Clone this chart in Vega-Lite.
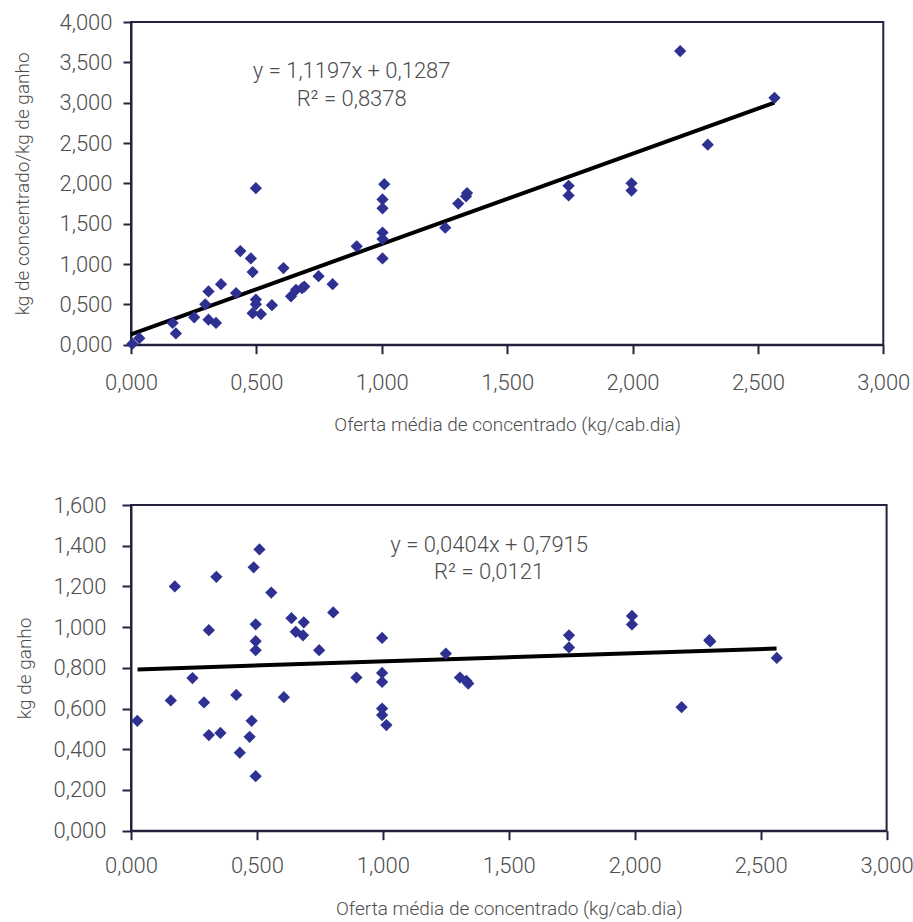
{
  "$schema": "https://vega.github.io/schema/vega-lite/v6.json",
  "background": "white",
  "padding": {"left": 12, "top": 10, "right": 0, "bottom": 0},
  "columns": 1,
  "align": "none",
  "spacing": 57,
  "config": {
    "font": "Roboto",
    "view": {"stroke": "#23233f", "strokeWidth": 2},
    "axis": {
      "grid": false,
      "domainColor": "#23233f",
      "domainWidth": 2,
      "tickColor": "#23233f",
      "tickWidth": 2,
      "labelFont": "Roboto",
      "labelFontWeight": 300,
      "labelFontSize": 22,
      "labelColor": "#4d4d4d",
      "labelOverlap": false,
      "labelFlush": false,
      "titleFont": "Roboto",
      "titleFontWeight": 300,
      "titleFontSize": 19,
      "titleColor": "#4d4d4d"
    }
  },
  "datasets": {
    "top": [
      {"x": 0.005, "y": 0.01}, {"x": 0.033, "y": 0.08}, {"x": 0.166, "y": 0.27}, {"x": 0.179, "y": 0.14},
      {"x": 0.252, "y": 0.34}, {"x": 0.296, "y": 0.50}, {"x": 0.309, "y": 0.66}, {"x": 0.309, "y": 0.31},
      {"x": 0.339, "y": 0.27}, {"x": 0.359, "y": 0.75}, {"x": 0.419, "y": 0.64}, {"x": 0.436, "y": 1.16},
      {"x": 0.478, "y": 1.07}, {"x": 0.485, "y": 0.90}, {"x": 0.498, "y": 1.94}, {"x": 0.498, "y": 0.56},
      {"x": 0.498, "y": 0.50}, {"x": 0.485, "y": 0.39}, {"x": 0.518, "y": 0.38}, {"x": 0.562, "y": 0.49},
      {"x": 0.608, "y": 0.95}, {"x": 0.638, "y": 0.60}, {"x": 0.658, "y": 0.68}, {"x": 0.682, "y": 0.70},
      {"x": 0.691, "y": 0.72}, {"x": 0.748, "y": 0.85}, {"x": 0.804, "y": 0.75}, {"x": 0.900, "y": 1.22},
      {"x": 1.010, "y": 1.99}, {"x": 1.003, "y": 1.80}, {"x": 1.003, "y": 1.69}, {"x": 1.003, "y": 1.39},
      {"x": 1.003, "y": 1.31}, {"x": 1.003, "y": 1.07}, {"x": 1.253, "y": 1.45}, {"x": 1.305, "y": 1.75},
      {"x": 1.336, "y": 1.84}, {"x": 1.340, "y": 1.88}, {"x": 1.745, "y": 1.97}, {"x": 1.745, "y": 1.85},
      {"x": 1.996, "y": 2.00}, {"x": 1.996, "y": 1.91}, {"x": 2.190, "y": 3.64}, {"x": 2.300, "y": 2.48},
      {"x": 2.566, "y": 3.06}
    ],
    "topfit": [{"x": 0.0, "y": 0.1287}, {"x": 2.566, "y": 3.002}],
    "toptext": [
      {"x": 0.88, "y": 3.387, "label": "y = 1,1197x + 0,1287"},
      {"x": 0.88, "y": 3.04, "label": "R² = 0,8378"}
    ],
    "bottom": [
      {"x": 0.025, "y": 0.54}, {"x": 0.158, "y": 0.64}, {"x": 0.174, "y": 1.20}, {"x": 0.244, "y": 0.75},
      {"x": 0.290, "y": 0.63}, {"x": 0.309, "y": 0.985}, {"x": 0.309, "y": 0.47}, {"x": 0.339, "y": 1.247},
      {"x": 0.355, "y": 0.48}, {"x": 0.418, "y": 0.667}, {"x": 0.432, "y": 0.383}, {"x": 0.471, "y": 0.461},
      {"x": 0.479, "y": 0.54}, {"x": 0.487, "y": 1.294}, {"x": 0.495, "y": 0.268}, {"x": 0.495, "y": 1.014},
      {"x": 0.495, "y": 0.931}, {"x": 0.495, "y": 0.887}, {"x": 0.510, "y": 1.382}, {"x": 0.557, "y": 1.17},
      {"x": 0.607, "y": 0.656}, {"x": 0.637, "y": 1.044}, {"x": 0.654, "y": 0.977}, {"x": 0.683, "y": 0.96},
      {"x": 0.686, "y": 1.024}, {"x": 0.747, "y": 0.887}, {"x": 0.803, "y": 1.072}, {"x": 0.895, "y": 0.752},
      {"x": 0.997, "y": 0.947}, {"x": 0.997, "y": 0.775}, {"x": 0.997, "y": 0.731}, {"x": 0.997, "y": 0.60},
      {"x": 0.997, "y": 0.568}, {"x": 1.014, "y": 0.519}, {"x": 1.250, "y": 0.87}, {"x": 1.306, "y": 0.752},
      {"x": 1.332, "y": 0.736}, {"x": 1.339, "y": 0.723}, {"x": 1.739, "y": 0.96}, {"x": 1.739, "y": 0.90},
      {"x": 1.989, "y": 1.055}, {"x": 1.989, "y": 1.013}, {"x": 2.186, "y": 0.607}, {"x": 2.296, "y": 0.936},
      {"x": 2.300, "y": 0.93}, {"x": 2.564, "y": 0.849}
    ],
    "bottomfit": [{"x": 0.026, "y": 0.7925}, {"x": 2.563, "y": 0.895}],
    "bottomtext": [
      {"x": 1.422, "y": 1.403, "label": "y = 0,0404x + 0,7915"},
      {"x": 1.422, "y": 1.273, "label": "R² = 0,0121"}
    ]
  },
  "concat": [
    {
      "width": 752.3,
      "height": 322.7,
      "encoding": {
        "x": {
          "field": "x", "type": "quantitative",
          "scale": {"domain": [0, 3], "nice": false, "zero": false},
          "axis": {
            "title": "Oferta média de concentrado (kg/cab.dia)",
            "values": [0, 0.5, 1, 1.5, 2, 2.5, 3],
            "labelExpr": "replace(format(datum.value, '.3f'), '.', ',')",
            "tickSize": 9, "labelPadding": 19, "titlePadding": 22
          }
        },
        "y": {
          "field": "y", "type": "quantitative",
          "scale": {"domain": [0, 4], "nice": false, "zero": false},
          "axis": {
            "title": "kg de concentrado/kg de ganho",
            "values": [0, 0.5, 1, 1.5, 2, 2.5, 3, 3.5, 4],
            "labelExpr": "replace(format(datum.value, '.3f'), '.', ',')",
            "tickSize": 8, "labelPadding": 11, "titlePadding": 26
          }
        }
      },
      "layer": [
        {
          "data": {"name": "topfit"},
          "mark": {"type": "line", "color": "black", "strokeWidth": 4}
        },
        {
          "data": {"name": "top"},
          "mark": {"type": "point", "shape": "diamond", "filled": true, "size": 150, "color": "#2E3192", "opacity": 1}
        },
        {
          "data": {"name": "toptext"},
          "mark": {"type": "text", "font": "Roboto", "fontWeight": 300, "fontSize": 22, "color": "#4d4d4d", "baseline": "middle", "align": "center"},
          "encoding": {"text": {"field": "label"}}
        }
      ]
    },
    {
      "width": 755.6,
      "height": 325.7,
      "encoding": {
        "x": {
          "field": "x", "type": "quantitative",
          "scale": {"domain": [0, 3], "nice": false, "zero": false},
          "axis": {
            "title": "Oferta média de concentrado (kg/cab.dia)",
            "values": [0, 0.5, 1, 1.5, 2, 2.5, 3],
            "labelExpr": "replace(format(datum.value, '.3f'), '.', ',')",
            "tickSize": 9, "labelPadding": 16, "titlePadding": 23
          }
        },
        "y": {
          "field": "y", "type": "quantitative",
          "scale": {"domain": [0, 1.6], "nice": false, "zero": false},
          "axis": {
            "title": "kg de ganho",
            "values": [0, 0.2, 0.4, 0.6, 0.8, 1.0, 1.2, 1.4, 1.6],
            "labelExpr": "replace(format(datum.value, '.3f'), '.', ',')",
            "tickSize": 9, "labelPadding": 16, "titlePadding": 18
          }
        }
      },
      "layer": [
        {
          "data": {"name": "bottomfit"},
          "mark": {"type": "line", "color": "black", "strokeWidth": 4}
        },
        {
          "data": {"name": "bottom"},
          "mark": {"type": "point", "shape": "diamond", "filled": true, "size": 150, "color": "#2E3192", "opacity": 1}
        },
        {
          "data": {"name": "bottomtext"},
          "mark": {"type": "text", "font": "Roboto", "fontWeight": 300, "fontSize": 22, "color": "#4d4d4d", "baseline": "middle", "align": "center"},
          "encoding": {"text": {"field": "label"}}
        }
      ]
    }
  ]
}
